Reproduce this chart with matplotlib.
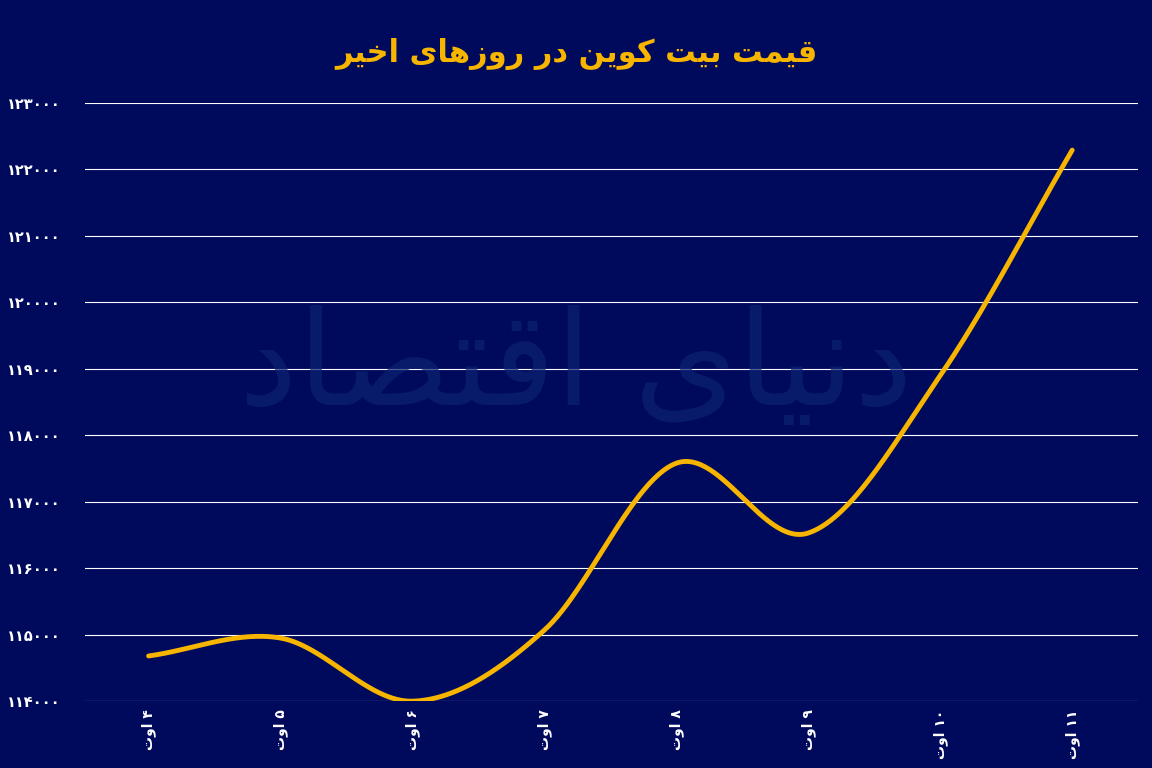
import numpy as np
import matplotlib
matplotlib.use("Agg")
import matplotlib.pyplot as plt

days = ["۴", "۵", "۶", "۷", "۸", "۹", "۱۰", "۱۱"]
month = "اوت"
prices = [114680, 114950, 114000, 115070, 117580, 116530, 118900, 122290]
yticks = [114000, 115000, 116000, 117000, 118000, 119000, 120000, 121000, 122000, 123000]
title = "قیمت بیت کوین در روزهای اخیر"
watermark = "دنیای اقتصاد"

FORMS = {
    'ا': ('\uFE8D', '\uFE8E', None, None), 'ب': ('\uFE8F', '\uFE90', '\uFE91', '\uFE92'),
    'ت': ('\uFE95', '\uFE96', '\uFE97', '\uFE98'), 'خ': ('\uFEA5', '\uFEA6', '\uFEA7', '\uFEA8'),
    'د': ('\uFEA9', '\uFEAA', None, None), 'ر': ('\uFEAD', '\uFEAE', None, None),
    'ز': ('\uFEAF', '\uFEB0', None, None), 'ق': ('\uFED5', '\uFED6', '\uFED7', '\uFED8'),
    'م': ('\uFEE1', '\uFEE2', '\uFEE3', '\uFEE4'), 'ن': ('\uFEE5', '\uFEE6', '\uFEE7', '\uFEE8'),
    'ه': ('\uFEE9', '\uFEEA', '\uFEEB', '\uFEEC'), 'و': ('\uFEED', '\uFEEE', None, None),
    'ی': ('\uFBFC', '\uFBFD', '\uFBFE', '\uFBFF'), 'ک': ('\uFB8E', '\uFB8F', '\uFB90', '\uFB91'),
    'ص': ('\uFEB9', '\uFEBA', '\uFEBB', '\uFEBC'), 'ض': ('\uFEBD', '\uFEBE', '\uFEBF', '\uFEC0'),
}

def shape_word(w):
    out = []
    for i, c in enumerate(w):
        if c not in FORMS:
            out.append(c); continue
        prev = w[i-1] if i > 0 else None
        nxt = w[i+1] if i + 1 < len(w) else None
        jp = prev in FORMS and FORMS[prev][2] is not None
        jn = nxt in FORMS and FORMS[c][2] is not None
        f = FORMS[c]
        if jp and jn: out.append(f[3])
        elif jp: out.append(f[1])
        elif jn: out.append(f[2])
        else: out.append(f[0])
    return ''.join(out)

def rtl(s):
    words = s.split(' ')
    res = []
    for w in words:
        if all('\u06F0' <= ch <= '\u06F9' for ch in w):
            res.append(w)
        else:
            res.append(shape_word(w)[::-1])
    return ' '.join(res[::-1])

def fa_num(n):
    return ''.join(chr(0x06F0 + int(d)) for d in str(n))

def spline(x, y, n=60):
    x = np.asarray(x, float); y = np.asarray(y, float)
    m = np.gradient(y, x)
    xs, ys = [], []
    for i in range(len(x) - 1):
        t = np.linspace(0, 1, n)
        h = x[i+1] - x[i]
        h00 = 2*t**3 - 3*t**2 + 1; h10 = t**3 - 2*t**2 + t
        h01 = -2*t**3 + 3*t**2; h11 = t**3 - t**2
        xs.append(x[i] + t*h)
        ys.append(h00*y[i] + h10*h*m[i] + h01*y[i+1] + h11*h*m[i+1])
    return np.concatenate(xs), np.concatenate(ys)

bg = '#000a5c'
fig = plt.figure(figsize=(11.52, 7.68), dpi=100, facecolor=bg)
ax = fig.add_axes([0.074, 0.087, 0.914, 0.779], facecolor=bg)
fig.text(0.5, 0.93, rtl(title), color='#f7b500', fontsize=22, fontweight='bold',
         ha='center', va='center', family='DejaVu Sans')
fig.text(0.5, 0.52, rtl(watermark), color='#0c2270', fontsize=95,
         ha='center', va='center', family='DejaVu Sans', alpha=0.7, zorder=0)

x = np.arange(len(days))
sx, sy = spline(x, prices)
ax.plot(sx, sy, color='#f7b500', lw=3.5, solid_capstyle='round', zorder=3)
ax.set_xlim(-0.48, 7.5)
ax.set_ylim(114000, 123000)
ax.set_yticks(yticks)
ax.set_yticklabels([fa_num(v) for v in yticks], color='white', fontsize=10.5, fontweight='bold', ha='right')
ax.tick_params(axis='y', length=0, pad=18)
ax.set_xticks(x)
ax.set_xticklabels([rtl(d + ' ' + month) for d in days], rotation=90, color='white',
                   fontsize=10, fontweight='bold', va='top')
ax.tick_params(axis='x', length=0, pad=6)
ax.grid(axis='y', color='white', lw=0.8)
ax.set_axisbelow(True)
for s in ax.spines.values():
    s.set_visible(False)
fig.savefig('out.png', facecolor=bg)
